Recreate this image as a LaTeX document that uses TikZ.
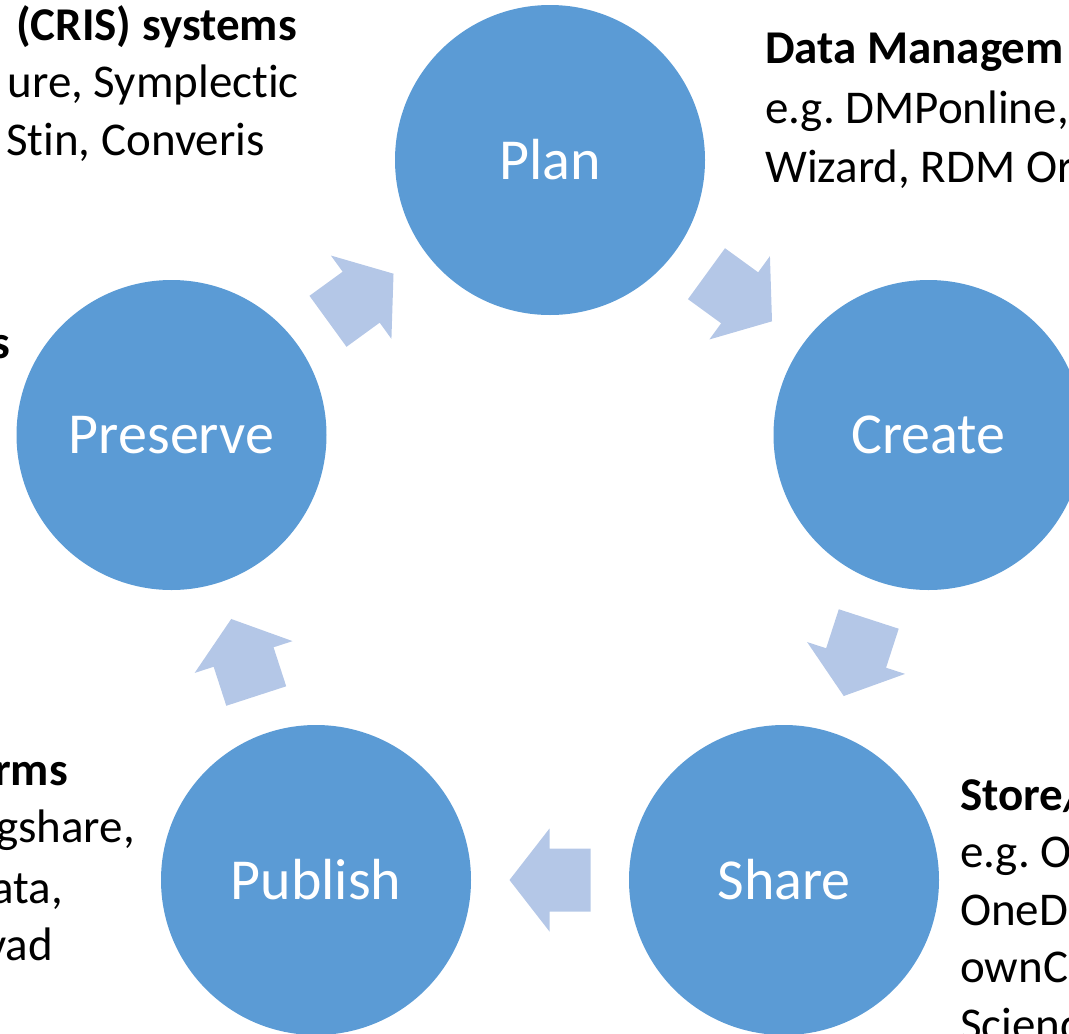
\documentclass[tikz,border=0pt]{standalone}
\usepackage{fontspec}
\setmainfont{Carlito}[Ligatures=NoCommon]
\usetikzlibrary{calc}
\definecolor{circblue}{HTML}{5B9BD5}
\definecolor{arrblue}{HTML}{B4C7E7}
\tikzset{
  stage/.style={circle, fill=circblue, draw=none, minimum size=310pt, inner sep=0pt,
    text=white, font=\fontsize{58}{62}\selectfont},
  bodytext/.style={inner sep=0pt, font=\fontsize{47}{56}\selectfont, text=black},
  boldtext/.style={bodytext, font=\fontsize{47}{56}\selectfont\bfseries},
}
\newcommand{\blockarrow}[3]{%
  \begin{scope}[shift={($(#1)!0.5!(#2)$)}, rotate=#3]
    \fill[arrblue] (-40.5,-31.5) -- (0.5,-31.5) -- (0.5,-51.5) -- (40.5,0)
      -- (0.5,51.5) -- (0.5,31.5) -- (-40.5,31.5) -- cycle;
  \end{scope}}
\frenchspacing
\begin{document}
\begin{tikzpicture}[x=1pt,y=-1pt]
\useasboundingbox (0,0) rectangle (1069,1034);
\clip (0,0) rectangle (1069,1034);
% stages
\node[stage] (plan) at (550,160) {Plan};
\node[stage] (create) at (928.5,435) {Create};
\node[stage] (share) at (784,880) {Share};
\node[stage] (publish) at (316,880) {Publish};
\node[stage] (preserve) at (171.5,435) {Preserve};
% block arrows
\blockarrow{plan}{create}{-36}
\blockarrow{create}{share}{-108}
\blockarrow{share}{publish}{180}
\blockarrow{publish}{preserve}{108}
\blockarrow{preserve}{plan}{36}
% top-left text
\node[boldtext, anchor=base east] (tl1) at (297,40) {(CRIS) systems};
\node[bodytext, anchor=base east] (tl2) at (299,97) {ure, Symplectic};
\node[bodytext, anchor=base east] (tl3) at (265,155) {Stin, Converis};
% left middle
\node[boldtext, anchor=base east] (ml1) at (10,358) {s};
% bottom-left
\node[boldtext, anchor=base east] (bl1) at (68,785) {rms};
\node[bodytext, anchor=base east] (bl2) at (135,842) {gshare,};
\node[bodytext, anchor=base east] (bl3) at (63,903) {ata,};
\node[bodytext, anchor=base east] (bl4) at (53,960) {vad};
% top-right
\node[boldtext, anchor=base west] (tr1) at (765,63) {Data Managem};
\node[bodytext, anchor=base west] (tr2) at (765,123) {e.g. DMPonline,};
\node[bodytext, anchor=base west] (tr3) at (765,182) {Wizard, RDM Or};
% bottom-right
\node[boldtext, anchor=base west] (br1) at (960,810) {Store/};
\node[bodytext, anchor=base west] (br2) at (960,867) {e.g. O};
\node[bodytext, anchor=base west] (br3) at (960,925) {OneD};
\node[bodytext, anchor=base west] (br4) at (960,982) {ownC};
\node[bodytext, anchor=base west] (br5) at (960,1040) {Scienc};
\end{tikzpicture}
\end{document}
